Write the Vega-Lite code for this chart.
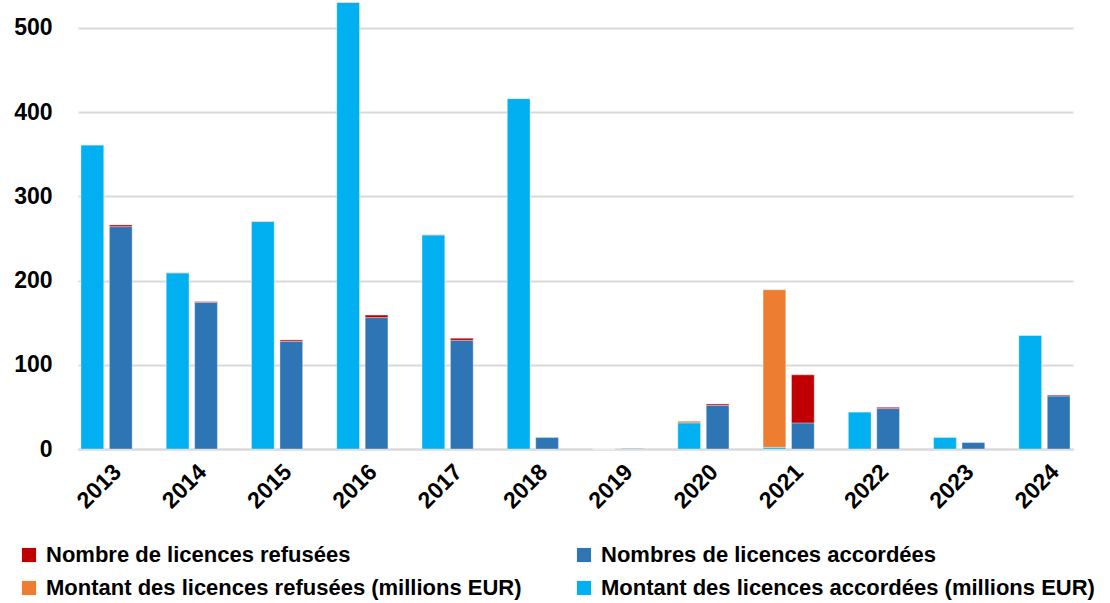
{
  "$schema": "https://vega.github.io/schema/vega-lite/v6.json",
  "width": 995,
  "height": 449,
  "autosize": {"type": "none"},
  "padding": {"left": 78, "top": 0, "right": 37, "bottom": 154},
  "background": "white",
  "config": {"view": {"stroke": null}, "font": "Liberation Sans"},
  "data": {
    "values": [
      {"year": "2013", "grp": "Montant", "series": "Montant des licences accordées (millions EUR)", "ord": 1, "value": 361},
      {"year": "2013", "grp": "Montant", "series": "Montant des licences refusées (millions EUR)", "ord": 2, "value": 0},
      {"year": "2013", "grp": "Nombre", "series": "Nombres de licences accordées", "ord": 1, "value": 264},
      {"year": "2013", "grp": "Nombre", "series": "Nombre de licences refusées", "ord": 2, "value": 2},
      {"year": "2014", "grp": "Montant", "series": "Montant des licences accordées (millions EUR)", "ord": 1, "value": 209},
      {"year": "2014", "grp": "Montant", "series": "Montant des licences refusées (millions EUR)", "ord": 2, "value": 0.5},
      {"year": "2014", "grp": "Nombre", "series": "Nombres de licences accordées", "ord": 1, "value": 174},
      {"year": "2014", "grp": "Nombre", "series": "Nombre de licences refusées", "ord": 2, "value": 1},
      {"year": "2015", "grp": "Montant", "series": "Montant des licences accordées (millions EUR)", "ord": 1, "value": 270},
      {"year": "2015", "grp": "Montant", "series": "Montant des licences refusées (millions EUR)", "ord": 2, "value": 0.5},
      {"year": "2015", "grp": "Nombre", "series": "Nombres de licences accordées", "ord": 1, "value": 128},
      {"year": "2015", "grp": "Nombre", "series": "Nombre de licences refusées", "ord": 2, "value": 1.5},
      {"year": "2016", "grp": "Montant", "series": "Montant des licences accordées (millions EUR)", "ord": 1, "value": 530},
      {"year": "2016", "grp": "Montant", "series": "Montant des licences refusées (millions EUR)", "ord": 2, "value": 0.5},
      {"year": "2016", "grp": "Nombre", "series": "Nombres de licences accordées", "ord": 1, "value": 156},
      {"year": "2016", "grp": "Nombre", "series": "Nombre de licences refusées", "ord": 2, "value": 3},
      {"year": "2017", "grp": "Montant", "series": "Montant des licences accordées (millions EUR)", "ord": 1, "value": 254},
      {"year": "2017", "grp": "Montant", "series": "Montant des licences refusées (millions EUR)", "ord": 2, "value": 0.5},
      {"year": "2017", "grp": "Nombre", "series": "Nombres de licences accordées", "ord": 1, "value": 129},
      {"year": "2017", "grp": "Nombre", "series": "Nombre de licences refusées", "ord": 2, "value": 2.5},
      {"year": "2018", "grp": "Montant", "series": "Montant des licences accordées (millions EUR)", "ord": 1, "value": 416},
      {"year": "2018", "grp": "Montant", "series": "Montant des licences refusées (millions EUR)", "ord": 2, "value": 0},
      {"year": "2018", "grp": "Nombre", "series": "Nombres de licences accordées", "ord": 1, "value": 14},
      {"year": "2018", "grp": "Nombre", "series": "Nombre de licences refusées", "ord": 2, "value": 0},
      {"year": "2019", "grp": "Montant", "series": "Montant des licences accordées (millions EUR)", "ord": 1, "value": 0},
      {"year": "2019", "grp": "Montant", "series": "Montant des licences refusées (millions EUR)", "ord": 2, "value": 0},
      {"year": "2019", "grp": "Nombre", "series": "Nombres de licences accordées", "ord": 1, "value": 1},
      {"year": "2019", "grp": "Nombre", "series": "Nombre de licences refusées", "ord": 2, "value": 0},
      {"year": "2020", "grp": "Montant", "series": "Montant des licences accordées (millions EUR)", "ord": 1, "value": 31},
      {"year": "2020", "grp": "Montant", "series": "Montant des licences refusées (millions EUR)", "ord": 2, "value": 2},
      {"year": "2020", "grp": "Nombre", "series": "Nombres de licences accordées", "ord": 1, "value": 52},
      {"year": "2020", "grp": "Nombre", "series": "Nombre de licences refusées", "ord": 2, "value": 1.5},
      {"year": "2021", "grp": "Montant", "series": "Montant des licences accordées (millions EUR)", "ord": 1, "value": 2},
      {"year": "2021", "grp": "Montant", "series": "Montant des licences refusées (millions EUR)", "ord": 2, "value": 187},
      {"year": "2021", "grp": "Nombre", "series": "Nombres de licences accordées", "ord": 1, "value": 31},
      {"year": "2021", "grp": "Nombre", "series": "Nombre de licences refusées", "ord": 2, "value": 57},
      {"year": "2022", "grp": "Montant", "series": "Montant des licences accordées (millions EUR)", "ord": 1, "value": 44},
      {"year": "2022", "grp": "Montant", "series": "Montant des licences refusées (millions EUR)", "ord": 2, "value": 0},
      {"year": "2022", "grp": "Nombre", "series": "Nombres de licences accordées", "ord": 1, "value": 48},
      {"year": "2022", "grp": "Nombre", "series": "Nombre de licences refusées", "ord": 2, "value": 1.5},
      {"year": "2023", "grp": "Montant", "series": "Montant des licences accordées (millions EUR)", "ord": 1, "value": 14},
      {"year": "2023", "grp": "Montant", "series": "Montant des licences refusées (millions EUR)", "ord": 2, "value": 0},
      {"year": "2023", "grp": "Nombre", "series": "Nombres de licences accordées", "ord": 1, "value": 8},
      {"year": "2023", "grp": "Nombre", "series": "Nombre de licences refusées", "ord": 2, "value": 0},
      {"year": "2024", "grp": "Montant", "series": "Montant des licences accordées (millions EUR)", "ord": 1, "value": 135},
      {"year": "2024", "grp": "Montant", "series": "Montant des licences refusées (millions EUR)", "ord": 2, "value": 0},
      {"year": "2024", "grp": "Nombre", "series": "Nombres de licences accordées", "ord": 1, "value": 63},
      {"year": "2024", "grp": "Nombre", "series": "Nombre de licences refusées", "ord": 2, "value": 1}
    ]
  },
  "mark": {"type": "bar", "stroke": "white", "strokeOpacity": 0.35, "strokeWidth": 1},
  "encoding": {
    "x": {
      "field": "year", "type": "nominal", "title": null,
      "scale": {"paddingInner": 0.4, "paddingOuter": 0.035},
      "axis": {
        "labelAngle": -45, "labelAlign": "right", "labelBaseline": "middle",
        "labelFont": "Liberation Sans", "labelFontWeight": "bold", "labelFontSize": 23,
        "labelColor": "black", "labelPadding": 19, "labelOffset": 11,
        "ticks": false, "domainColor": "#d9d9d9", "domainWidth": 2, "grid": false
      }
    },
    "xOffset": {
      "field": "grp", "type": "nominal",
      "sort": ["Montant", "Nombre"],
      "scale": {"paddingInner": 0.2, "paddingOuter": 0}
    },
    "y": {
      "field": "value", "type": "quantitative", "title": null, "stack": "zero",
      "scale": {"domain": [0, 533], "nice": false},
      "axis": {
        "values": [0, 100, 200, 300, 400, 500],
        "labelFont": "Liberation Sans", "labelFontWeight": "bold", "labelFontSize": 23,
        "labelColor": "black", "labelPadding": 26,
        "ticks": false, "domain": false,
        "gridColor": "#d9d9d9", "gridWidth": 2
      }
    },
    "color": {
      "field": "series", "type": "nominal",
      "scale": {
        "domain": ["Nombre de licences refusées", "Montant des licences refusées (millions EUR)", "Nombres de licences accordées", "Montant des licences accordées (millions EUR)"],
        "range": ["#C00000", "#ED7D31", "#2E75B6", "#00B0F0"]
      },
      "legend": {
        "title": null, "orient": "none", "legendX": -60, "legendY": 544,
        "columns": 2, "columnPadding": 51, "rowPadding": 11,
        "symbolType": "square", "symbolSize": 200, "symbolStrokeWidth": 0,
        "labelFont": "Liberation Sans", "labelFontWeight": "bold", "labelFontSize": 22,
        "labelColor": "black", "labelLimit": 600, "labelOffset": 6
      }
    },
    "order": {"field": "ord", "type": "quantitative"}
  }
}
